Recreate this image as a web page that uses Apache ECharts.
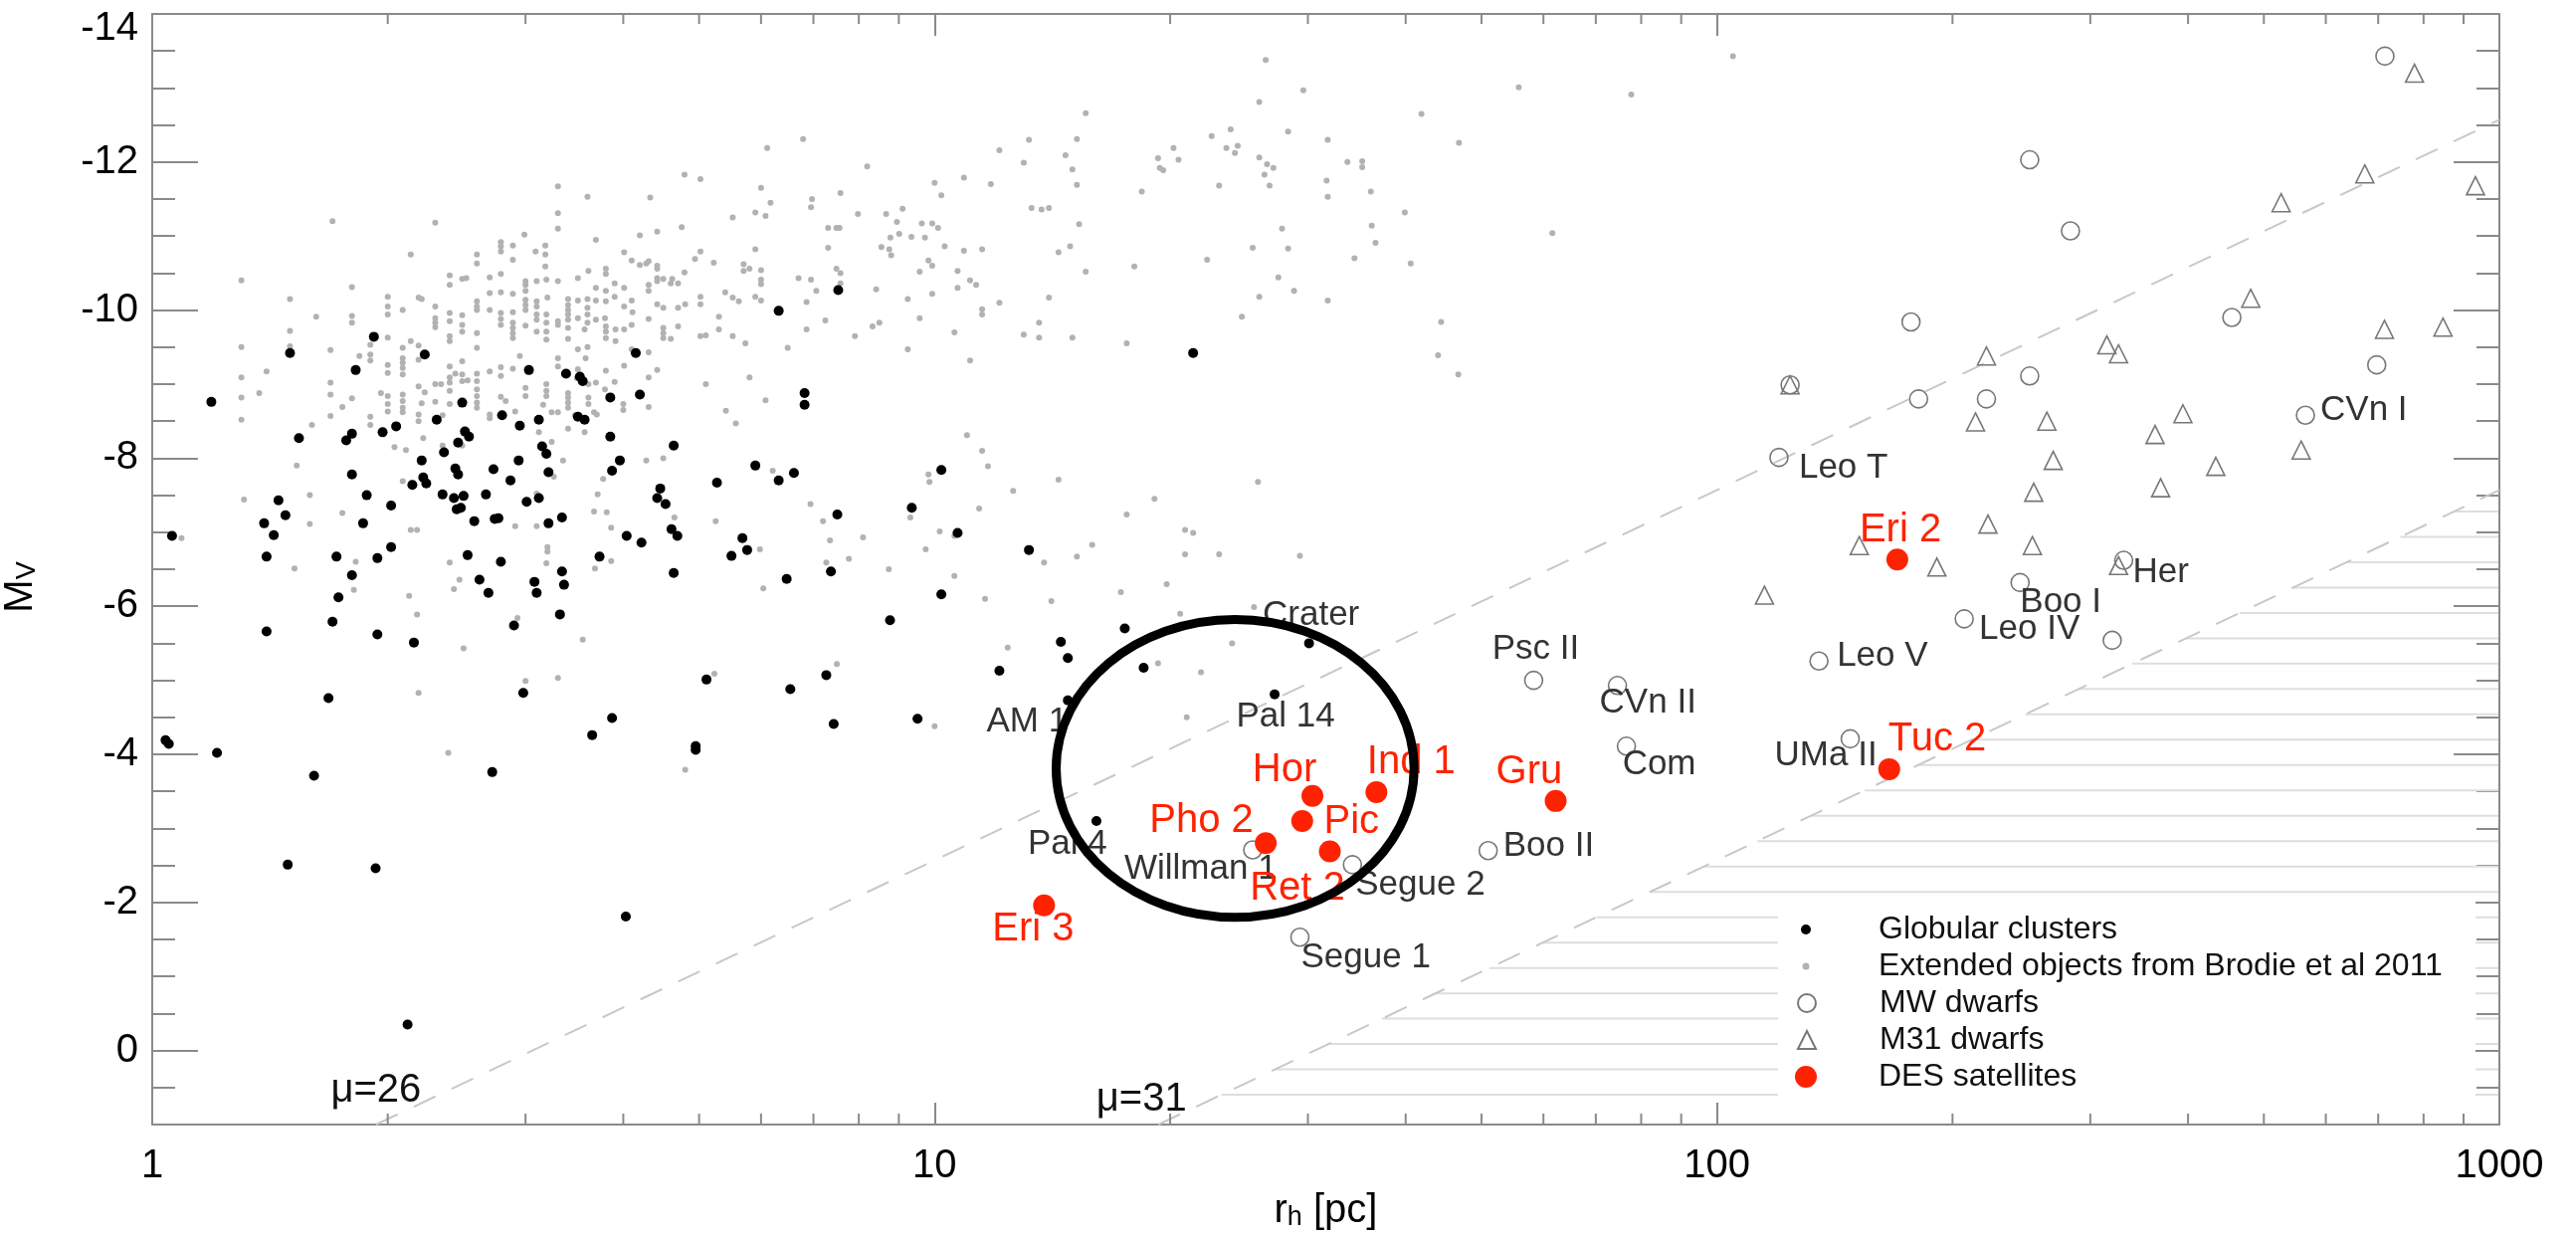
<!doctype html>
<html>
<head>
<meta charset="utf-8">
<title>Size - luminosity plane</title>
<script src="https://cdn.jsdelivr.net/npm/echarts@6/dist/echarts.min.js"></script>
<style>
  html, body { margin: 0; padding: 0; background: #fff; }
  #main { width: 2589px; height: 1243px; }
</style>
</head>
<body>
<div id="main"></div>
<script>
  // all points are [r_h in pc, M_V]
  var globularClusters = [
    [1.19,-8.76],[1.06,-6.95],[1.50,-9.42],[1.54,-8.27],[1.39,-7.12],[1.43,-6.96],[1.45,-7.43],[1.48,-7.23],[1.40,-6.67],
    [1.92,-9.64],[1.82,-9.19],[2.23,-9.40],[1.77,-8.24],[1.80,-8.33],[1.80,-7.78],[1.88,-7.50],[1.86,-7.12],[2.02,-7.36],
    [1.97,-8.35],[2.05,-8.43],[2.21,-7.97],[2.15,-7.64],[2.24,-7.66],[2.22,-7.74],[2.31,-8.52],[2.36,-8.08],[2.49,-8.75],
    [2.46,-8.21],[2.51,-8.36],[2.54,-8.29],[2.35,-7.51],[2.44,-7.86],[2.46,-7.78],[2.43,-7.46],[2.50,-7.49],[2.45,-7.31],
    [2.48,-7.33],[1.94,-6.65],[2.02,-6.80],[1.72,-6.67],[1.80,-6.42],[1.73,-6.12],[2.58,-7.15],[2.53,-6.69],[2.62,-6.36],
    [2.69,-6.18],[2.67,-7.51],[2.73,-7.85],[2.74,-7.18],[2.77,-7.19],[2.79,-6.60],[2.80,-8.58],[2.87,-7.70],[2.94,-7.97],
    [2.95,-8.44],[3.03,-9.19],[3.01,-7.41],[3.12,-8.52],[3.15,-8.16],[3.19,-8.06],[3.21,-7.81],[3.12,-7.46],[3.21,-7.12],
    [3.08,-6.33],[3.10,-6.18],[3.34,-7.20],[3.34,-6.47],[3.36,-6.29],[3.32,-5.89],[3.38,-9.14],[3.52,-9.10],[3.55,-9.04],
    [3.50,-8.56],[3.57,-8.52],[3.85,-8.82],[3.85,-8.29],[3.96,-7.97],[3.87,-7.83],[4.15,-9.42],[4.20,-8.86],[4.04,-6.95],
    [4.22,-6.86],[3.73,-6.67],[4.42,-7.46],[4.46,-7.59],[4.53,-7.38],[4.61,-7.04],[4.69,-6.95],[4.64,-8.17],[4.64,-6.45],
    [5.27,-7.67],[5.50,-6.68],[5.68,-6.92],[5.76,-6.76],[5.90,-7.90],[6.32,-7.70],[6.61,-7.80],[6.32,-9.99],[6.82,-8.88],
    [6.82,-8.72],[7.53,-10.27],[7.51,-7.24],[6.47,-6.37],[7.37,-6.47],
    [1.04,-4.19],[1.05,-4.14],[1.21,-4.02],[1.40,-5.66],[1.49,-2.51],[1.61,-3.71],[1.68,-4.76],[1.70,-5.79],[1.93,-2.46],
    [1.94,-5.62],[2.12,-0.35],[2.16,-5.51],[2.72,-3.76],[2.90,-5.74],[2.98,-4.83],[3.65,-4.26],[3.87,-4.49],[4.03,-1.81],
    [4.95,-4.11],[4.95,-4.06],[5.11,-5.01],[6.54,-4.88],[7.27,-5.07],[7.43,-4.41],[8.77,-5.81],
    [10.2,-7.84],[9.35,-7.33],[10.7,-6.99],[10.2,-6.16],[12.1,-5.13],[21.4,-9.42],[13.2,-6.76],
    [14.5,-5.52],[14.8,-5.30],[17.5,-5.70],[18.5,-5.17],[9.51,-4.48]
  ];
  var namedClusters = [[30.1,-5.50],[27.2,-4.81],[14.8,-4.73],[16.1,-3.10]];
  var namedClusterNames = ['Crater','Pal 14','AM 1','Pal 4'];

  var extendedObjects = [
    [1.30,-10.40],[1.70,-11.20],[2.30,-11.18],[2.14,-10.75],[3.30,-11.67],[3.30,-11.31],[3.30,-11.10],[3.60,-11.53],[3.69,-10.95],
    [2.99,-11.02],[2.79,-10.92],[2.79,-10.86],[2.79,-10.79],[2.89,-10.87],[2.89,-10.68],[3.09,-10.79],[3.18,-10.87],[3.18,-10.75],
    [3.18,-10.59],[2.60,-10.75],[2.60,-10.63],[2.40,-10.47],[2.40,-10.34],[2.49,-10.42],[2.52,-10.43],[2.70,-10.44],[2.79,-10.49],
    [3.00,-10.39],[3.00,-10.34],[3.00,-10.26],[3.10,-10.39],[3.19,-10.41],[3.30,-10.39],[3.50,-10.43],[3.61,-10.53],[3.00,-10.14],
    [3.00,-10.07],[3.00,-10.00],[3.10,-10.12],[3.10,-10.05],[3.20,-10.17],[3.40,-10.15],[3.40,-10.07],[3.40,-10.00],[3.40,-9.94],
    [3.40,-9.87],[3.40,-9.76],[3.40,-9.61],[3.50,-10.13],[3.60,-10.15],[3.60,-10.03],[3.60,-9.94],[3.60,-9.83],[2.70,-10.23],
    [2.79,-10.24],[2.89,-10.22],[2.60,-10.12],[2.60,-10.05],[2.60,-10.00],[2.70,-10.00],[2.79,-9.96],[2.79,-9.88],[2.79,-9.80],
    [2.89,-9.97],[2.89,-9.83],[2.89,-9.76],[2.89,-9.69],[2.89,-9.62],[3.00,-9.79],[3.10,-9.94],[3.10,-9.87],[3.10,-9.71],
    [3.19,-9.94],[3.19,-9.83],[3.19,-9.71],[3.19,-9.60],[3.30,-9.85],[3.30,-9.80],[3.50,-9.89],[3.50,-9.47],[3.60,-9.50],
    [3.57,-9.74],[2.40,-9.96],[2.40,-9.85],[2.49,-9.93],[2.49,-9.80],[2.49,-9.71],[2.60,-9.69],[2.60,-9.49],[2.30,-10.05],
    [2.30,-9.89],[2.30,-9.83],[2.30,-9.77],[2.40,-9.65],[2.40,-9.58],[2.19,-10.17],[2.21,-10.15],[2.09,-10.00],[2.00,-10.18],
    [2.00,-10.05],[2.00,-9.94],[2.00,-9.63],[1.80,-10.31],[1.80,-9.92],[1.80,-9.83],[1.62,-9.91],[1.50,-10.15],[1.50,-9.72],
    [1.50,-9.51],[1.30,-9.50],[1.69,-9.46],[1.84,-9.38],[1.90,-9.53],[1.90,-9.40],[1.90,-9.32],[2.00,-9.26],[2.00,-9.15],
    [2.09,-9.49],[2.09,-9.35],[2.09,-9.29],[2.09,-9.22],[2.09,-9.13],[2.14,-9.58],[2.19,-9.52],[2.19,-9.33],[2.30,-9.00],
    [2.34,-9.00],[2.40,-9.24],[2.40,-9.09],[2.40,-9.02],[2.40,-8.91],[2.44,-9.14],[2.49,-9.31],[2.49,-9.13],[2.49,-9.04],
    [2.53,-9.05],[2.60,-9.14],[2.60,-9.04],[2.60,-8.93],[2.60,-8.84],[2.60,-8.75],[2.60,-8.68],[2.70,-9.17],[2.79,-9.23],
    [2.79,-9.11],[2.89,-9.21],[2.95,-9.38],[2.79,-8.83],[2.83,-8.77],[2.91,-8.63],[3.00,-8.95],[3.00,-8.84],[3.16,-8.72],
    [3.19,-9.00],[3.19,-8.91],[3.19,-8.84],[3.40,-8.88],[3.40,-8.82],[3.40,-8.75],[3.40,-8.68],[3.50,-9.20],[3.61,-9.00],
    [3.61,-8.82],[3.61,-8.73],[3.24,-8.62],[3.30,-8.62],[3.47,-8.58],[3.67,-8.62],[2.70,-8.59],[2.70,-8.54],[2.40,-8.73],
    [2.19,-8.97],[2.23,-8.89],[2.21,-8.74],[2.30,-8.76],[2.00,-8.84],[2.00,-8.73],[2.00,-8.63],[2.09,-8.86],[2.09,-8.77],
    [2.09,-8.68],[2.09,-8.62],[2.19,-8.59],[2.19,-8.50],[1.96,-8.88],[1.90,-8.56],[1.90,-8.45],[1.80,-8.81],[1.75,-8.69],
    [1.69,-9.02],[1.69,-8.86],[1.69,-8.57],[1.60,-8.45],[1.40,-9.17],[1.37,-8.88],[1.30,-9.09],[1.30,-8.82],[1.30,-8.52],
    [2.35,-8.58],[3.49,-9.08],
    [6.79,-12.31],[6.11,-12.19],[4.79,-11.83],[5.02,-11.77],[4.33,-11.52],[4.20,-11.01],[4.42,-11.06],[4.75,-11.12],[4.01,-10.78],
    [4.10,-10.67],[4.20,-10.61],[4.28,-10.63],[4.31,-10.66],[4.42,-10.60],[4.42,-10.56],[4.94,-10.69],[5.02,-10.79],[4.79,-10.51],
    [5.22,-10.64],[5.52,-11.25],[5.90,-11.32],[6.00,-11.65],[6.17,-11.45],[6.08,-11.27],[5.90,-10.82],[5.70,-10.62],[5.80,-10.56],
    [5.70,-10.53],[6.00,-10.54],[6.00,-10.41],[6.00,-10.35],[5.40,-10.24],[5.52,-10.17],[5.62,-10.12],[5.90,-10.18],[6.00,-10.13],
    [6.97,-11.50],[6.95,-11.39],[7.58,-11.58],[8.20,-11.94],[7.98,-11.30],[7.31,-11.11],[7.49,-11.11],[7.56,-11.11],[7.31,-10.84],
    [7.49,-10.56],[7.58,-10.50],[7.58,-10.36],[6.70,-10.43],[6.95,-10.41],[7.06,-10.26],[6.86,-10.11],[8.67,-11.30],[9.10,-11.37],
    [8.95,-11.19],[9.01,-11.03],[8.78,-10.98],[8.55,-10.85],[8.75,-10.82],[8.80,-10.74],[9.34,-10.99],[9.72,-10.98],[9.63,-11.17],
    [9.93,-11.17],[10.1,-11.11],[10.0,-11.72],[10.2,-11.55],[10.9,-11.79],[11.8,-11.70],[12.1,-12.16],[10.3,-10.86],[10.9,-10.80],
    [11.5,-10.82],[9.82,-10.67],[9.93,-10.60],[9.57,-10.52],[10.7,-10.53],[11.1,-10.40],[11.3,-10.34],[10.7,-10.30],[9.93,-10.22],
    [8.42,-10.28],[9.24,-10.15],[9.57,-9.89],[11.5,-10.01],[11.5,-9.94],[12.1,-10.10],[10.6,-9.70],[11.1,-9.32],[9.24,-9.47],
    [8.33,-9.78],[8.50,-9.83],[7.91,-9.65],[7.25,-9.86],[6.86,-9.74],[6.49,-9.49],[5.80,-9.09],[6.08,-8.78],[5.41,-8.64],
    [5.57,-8.47],[5.10,-9.00],[5.73,-9.55],[5.52,-9.65],[5.30,-9.91],[5.30,-9.74],[5.02,-9.65],[5.10,-9.66],[5.02,-10.18],
    [5.02,-10.08],[4.80,-10.08],[4.70,-10.03],[4.60,-10.36],[4.70,-10.36],[4.50,-10.42],[4.62,-10.42],[4.42,-10.43],[4.42,-10.39],
    [4.31,-10.34],[4.31,-10.26],[4.50,-10.03],[4.42,-10.08],[4.31,-9.88],[4.10,-10.13],[4.11,-9.97],[4.10,-9.80],[4.01,-10.30],
    [4.01,-10.05],[3.90,-10.36],[3.90,-10.18],[3.80,-10.56],[3.80,-10.49],[3.80,-10.26],[3.80,-10.12],[3.69,-10.30],[3.69,-10.13],
    [3.69,-9.87],[3.79,-9.89],[3.80,-9.78],[3.80,-9.71],[3.80,-9.62],[3.91,-9.74],[4.01,-9.74],[3.91,-9.58],[4.50,-9.76],
    [4.50,-9.69],[4.50,-9.62],[4.60,-9.61],[4.70,-9.78],[4.31,-9.43],[4.10,-9.47],[4.01,-9.25],[3.90,-9.03],[3.79,-8.93],
    [3.58,-9.35],[3.80,-9.18],[3.69,-9.02],[3.30,-9.35],[3.30,-9.24],[4.00,-8.73],[4.00,-8.65],[4.31,-9.09],[4.42,-9.19],
    [4.31,-8.69],[3.70,-8.59],
    [26.5,-13.38],[29.6,-12.97],[26.0,-12.81],[15.6,-12.66],[55.8,-13.01],[77.7,-12.91],[104.8,-13.43],[41.9,-12.65],[46.8,-12.26],
    [13.2,-12.30],[15.2,-12.31],[14.7,-12.09],[15.0,-11.90],[15.2,-11.69],[13.0,-11.99],[13.3,-11.38],[13.7,-11.36],[14.0,-11.38],
    [15.3,-11.16],[14.9,-10.86],[14.4,-10.78],[15.6,-10.52],[14.0,-10.17],[13.6,-9.83],[13.6,-9.63],[15.0,-9.63],[13.0,-9.67],
    [17.6,-9.55],[18.0,-10.59],[18.4,-11.60],[19.3,-12.05],[19.6,-11.89],[19.4,-11.92],[20.2,-12.19],[20.5,-12.03],[22.6,-12.35],
    [23.9,-12.44],[23.6,-12.19],[24.2,-12.12],[24.4,-12.22],[26.0,-12.06],[26.6,-11.97],[27.1,-11.92],[26.4,-11.83],[26.8,-11.68],
    [23.1,-11.68],[28.3,-12.41],[31.8,-12.30],[31.7,-11.75],[31.8,-11.53],[33.7,-12.00],[35.2,-12.01],[35.2,-11.93],[36.1,-11.60],
    [27.8,-11.10],[28.3,-10.83],[25.5,-10.84],[22.3,-10.68],[27.5,-10.44],[28.8,-10.26],[31.8,-10.13],[26.0,-10.18],[24.7,-9.91],
    [34.4,-10.70],[36.2,-11.14],[36.6,-10.91],[39.9,-11.32],[40.6,-10.63],[44.4,-9.84],[44.0,-9.39],[46.7,-9.13],[61.6,-11.04],
    [14.4,-7.71],[19.1,-7.45],[17.6,-7.24],[15.9,-6.83],[15.2,-6.67],[13.8,-6.59],[12.6,-7.56],[20.9,-7.03],[21.4,-6.99],
    [20.9,-6.70],[23.1,-6.70],[25.9,-7.68],[29.3,-6.68],[19.8,-6.30],[17.3,-6.19],[14.1,-6.07],[20.6,-5.90],[25.6,-5.99],
    [12.4,-5.44],[19.3,-5.23],[21.9,-5.11],[24.0,-5.50],[10.0,-4.38],[21.0,-4.50],
    [4.28,-7.97],[4.50,-8.00],[3.77,-7.72],[3.71,-7.51],[3.81,-7.27],[3.86,-7.06],[3.86,-6.61],[4.65,-7.20],[5.25,-7.15],
    [6.21,-7.83],[6.94,-7.38],[7.20,-7.15],[7.35,-6.89],[7.27,-6.59],[7.77,-6.64],[8.10,-6.93],[5.98,-6.77],[6.04,-6.24],
    [8.74,-6.50],[9.82,-7.78],[9.85,-7.68],[9.31,-7.20],[10.15,-7.01],[10.6,-6.95],[9.74,-6.77],[10.6,-6.41],[11.0,-8.31],
    [11.5,-8.10],[11.7,-7.89],[11.4,-7.32],[11.6,-6.10],[7.50,-5.22],[5.23,-5.09],
    [1.53,-7.90],[1.59,-7.50],[1.75,-7.26],[1.59,-7.11],[1.31,-7.44],[1.09,-6.92],[1.52,-6.51],[1.82,-6.60],[1.81,-6.22],
    [2.04,-8.15],[2.11,-8.11],[2.22,-8.27],[2.49,-8.17],[2.09,-7.69],[2.14,-7.03],[2.18,-7.03],[3.12,-8.35],[3.24,-8.22],
    [3.57,-8.35],[3.40,-8.40],[3.35,-7.97],[3.26,-7.75],[3.10,-7.52],[3.67,-7.28],[3.68,-6.51],[2.91,-7.08],[3.10,-7.08],
    [3.20,-6.80],[3.20,-6.74],[3.19,-6.58],[2.40,-6.59],[2.47,-6.36],[2.43,-6.23],[2.13,-6.14],[2.18,-5.89],[2.50,-5.43],
    [2.93,-5.84],[3.55,-5.55],[3.00,-4.99],[3.30,-5.03],[2.19,-4.83],[2.35,-8.17],[2.39,-4.02],[4.80,-3.79]
  ];

  var mwDwarfs = [
    [714,-13.43],[251,-12.03],[283,-11.07],[177,-9.84],[455,-9.90],[251,-9.11],[181,-8.80],[221,-8.80],[697,-9.26],
    [124,-8.99],[565,-8.58],[120,-8.01],[331,-6.62],[244,-6.32],[207,-5.83],[320,-5.54],[135,-5.26],[148,-4.21],
    [58.3,-5.00],[74.6,-4.93],[76.6,-4.11],[51.0,-2.70],[34.2,-2.51],[25.5,-2.71],[29.3,-1.53]
  ];
  var mwNames = ['','','','','','','','','','','CVn I','Leo T','Her','Boo I','Leo IV','','Leo V','UMa II',
    'Psc II','CVn II','Com','Boo II','Segue 2','Willman 1','Segue 1'];

  var m31Dwarfs = [
    [779,-13.20],[673,-11.84],[932,-11.68],[526,-11.45],[481,-10.16],[713,-9.74],[847,-9.77],[315,-9.53],[326,-9.41],
    [221,-9.38],[124,-8.99],[214,-8.49],[264,-8.50],[394,-8.60],[363,-8.32],[269,-7.97],[434,-7.89],[558,-8.11],
    [369,-7.60],[254,-7.54],[222,-7.11],[152,-6.82],[191,-6.53],[253,-6.82],[115,-6.15],[326,-6.55]
  ];

  var desSatellites = [[170,-6.63],[166,-3.80],[30.4,-3.44],[36.7,-3.49],[32.0,-2.69],[29.5,-3.10],[26.5,-2.80],[62.2,-3.37],[13.8,-1.96]];
  var desNames = ['Eri 2','Tuc 2','Hor','Ind 1','Pic','Pho 2','Ret 2','Gru','Eri 3'];

  var muLevels = [26, 31];
  var MU_ZERO = 23.57;          // mu = M_V + 5 log10(r_h) + 23.57
  var xMin = 1, xMax = 1000, yMin = -14, yMax = 1;

  // ---------- styling ----------
  var FONT = "'Liberation Sans', Arial, Helvetica, sans-serif";
  var AXIS_GRAY = '#8a8a8a';
  var RED = '#ff2200';
  var TEXT_GRAY = '#333333';

  // label anchor: [align, dx, dy] from the point centre
  var labelPlace = {
    'Crater': ['center', 2, -28], 'Pal 14': ['center', 11, 23], 'AM 1': ['right', 0, 22], 'Pal 4': ['left', -69, 23],
    'Willman 1': ['left', -129, 19], 'Segue 2': ['left', 3, 20], 'Segue 1': ['left', 1, 21], 'Boo II': ['left', 15, -4],
    'Psc II': ['center', 2, -31], 'CVn II': ['left', -18, 18], 'Com': ['left', -4, 19], 'Leo T': ['left', 20, 11],
    'UMa II': ['left', -76, 17], 'Leo V': ['left', 18, -5], 'Leo IV': ['left', 15, 10], 'Boo I': ['left', 0, 20],
    'Her': ['left', 9, 12], 'CVn I': ['left', 15, -5],
    'Hor': ['center', -28, -26], 'Ind 1': ['center', 35, -30], 'Pho 2': ['right', -49, 0], 'Pic': ['left', -6, -29],
    'Ret 2': ['left', -16, 46], 'Gru': ['left', -60, -29], 'Eri 3': ['left', -52, 24], 'Eri 2': ['left', -38, -29],
    'Tuc 2': ['left', -1, -30]
  };

  function labelFor(name, color, size) {
    var p = labelPlace[name];
    return {
      show: true, formatter: name, position: 'inside', align: p[0], verticalAlign: 'middle',
      offset: [p[1], p[2]], color: color, fontSize: size, fontFamily: FONT, textBorderWidth: 0
    };
  }

  function named(points, names, color, size) {
    return points.map(function (p, i) {
      if (!names[i]) return p;
      return { value: p, label: labelFor(names[i], color, size) };
    });
  }

  var gcData = globularClusters.concat(named(namedClusters, namedClusterNames, TEXT_GRAY, 35));

  var muSeries = muLevels.map(function (mu) {
    var rStart = Math.pow(10, (mu - MU_ZERO - yMax) / 5);
    return {
      type: 'line', name: 'mu' + mu, silent: true, symbol: 'none', z: 1,
      data: [[rStart, yMax], [xMax, mu - MU_ZERO - 5 * Math.log10(xMax)]],
      lineStyle: { color: '#c8c8c8', width: 2, type: [24, 18] }
    };
  });

  function yAxisDef(pos, interval, tickLen, main) {
    return {
      type: 'value', min: yMin, max: yMax, inverse: true, interval: interval, position: pos,
      axisLine: { show: main, onZero: false, lineStyle: { color: AXIS_GRAY, width: 2 } },
      axisTick: { show: true, inside: true, length: tickLen, lineStyle: { color: AXIS_GRAY, width: 2 } },
      axisLabel: (main && pos === 'left') ? {
        show: true, showMaxLabel: false, color: '#000', fontSize: 40, fontFamily: FONT, margin: 14,
        formatter: function (v) { return v === yMin ? '{t|' + v + '}' : String(v); },
        rich: { t: { fontSize: 40, fontFamily: FONT, color: '#000', padding: [30, 0, 0, 0] } }
      } : { show: false },
      splitLine: { show: false }
    };
  }

  function xAxisDef(pos) {
    return {
      type: 'log', logBase: 10, min: xMin, max: xMax, position: pos,
      axisLine: { show: true, onZero: false, lineStyle: { color: AXIS_GRAY, width: 2 } },
      axisTick: { show: true, inside: true, length: 22, lineStyle: { color: AXIS_GRAY, width: 2 } },
      axisLabel: pos === 'bottom' ? {
        show: true, color: '#000', fontSize: 40, fontFamily: FONT, margin: 22,
        formatter: function (v) { return String(Math.round(v)); }
      } : { show: false },
      splitLine: { show: false }
    };
  }

  var xBottom = xAxisDef('bottom');
  xBottom.name = '{n|r}{s|h}{n| [pc]}';
  xBottom.nameLocation = 'middle';
  xBottom.nameGap = 60;
  xBottom.nameTextStyle = {
    rich: {
      n: { fontSize: 40, fontFamily: FONT, color: '#000', lineHeight: 44, verticalAlign: 'bottom' },
      s: { fontSize: 27, fontFamily: FONT, color: '#000', lineHeight: 16, verticalAlign: 'bottom' }
    }
  };

  var yLeft = yAxisDef('left', 2, 46, true);
  yLeft.name = '{m|M}{s|V}';
  yLeft.nameLocation = 'middle';
  yLeft.nameRotate = 90;
  yLeft.nameGap = 112;
  yLeft.nameTextStyle = {
    padding: [0, 36, 0, 0],
    rich: {
      m: { fontSize: 40, fontFamily: FONT, color: '#000', lineHeight: 44, verticalAlign: 'bottom' },
      s: { fontSize: 27, fontFamily: FONT, color: '#000', lineHeight: 16, verticalAlign: 'bottom' }
    }
  };

  // legend rows
  var LEG_ICON_X = 1815, LEG_TEXT_X = 1888, LEG_ROWS = [934, 971, 1008, 1045, 1082];
  var legendItems = [
    ['Globular clusters', 10], ['Extended objects from Brodie et al 2011', 7],
    ['MW dwarfs', 18], ['M31 dwarfs', 18], ['DES satellites', 22]
  ];
  var legends = legendItems.map(function (it, i) {
    var s = it[1];
    return {
      data: [it[0]], orient: 'vertical', selectedMode: false, padding: 0,
      left: LEG_ICON_X - s / 2, top: LEG_ROWS[i] - 18, itemWidth: s, itemHeight: s,
      textStyle: { fontSize: 32, fontFamily: FONT, color: '#111', lineHeight: 36,
        padding: [0, 0, 0, LEG_TEXT_X - (LEG_ICON_X + s / 2 + 5)] }
    };
  });

  var chart = echarts.init(document.getElementById('main'), null, { renderer: 'canvas' });
  chart.setOption({
    animation: false,
    backgroundColor: '#fff',
    grid: { left: 153, right: 77, top: 14, bottom: 113, containLabel: false, outerBoundsMode: 'none' },
    legend: legends,
    xAxis: [xBottom, xAxisDef('top')],
    yAxis: [yLeft, yAxisDef('left', 0.5, 23, false), yAxisDef('right', 2, 46, true), yAxisDef('right', 0.5, 23, false)],
    series: muSeries.concat([
      { type: 'scatter', name: 'Extended objects from Brodie et al 2011', data: extendedObjects, symbol: 'circle',
        symbolSize: 6, itemStyle: { color: '#b2b2b2', opacity: 1 }, z: 2 },
      { type: 'scatter', name: 'Globular clusters', data: gcData, symbol: 'circle', symbolSize: 10,
        itemStyle: { color: '#000', opacity: 1 }, z: 3 },
      { type: 'scatter', name: 'MW dwarfs', data: named(mwDwarfs, mwNames, TEXT_GRAY, 35), symbol: 'circle', symbolSize: 18,
        itemStyle: { color: 'rgba(255,255,255,0)', borderColor: '#777', borderWidth: 1.6, opacity: 1 }, z: 4 },
      { type: 'scatter', name: 'M31 dwarfs', data: m31Dwarfs, symbol: 'triangle', symbolSize: 18,
        itemStyle: { color: 'rgba(255,255,255,0)', borderColor: '#777', borderWidth: 1.6, opacity: 1 }, z: 4 },
      { type: 'scatter', name: 'DES satellites', data: named(desSatellites, desNames, RED, 40), symbol: 'circle', symbolSize: 22,
        itemStyle: { color: RED, opacity: 1 }, z: 5 }
    ])
  });

  // ---------- decorations: hatch, minor log ticks, mu labels, ellipse ----------
  function toPx(r, m) { return chart.convertToPixel({ xAxisIndex: 0, yAxisIndex: 0 }, [r, m]); }
  var els = [];

  var HATCH_TOP = -7.28, HATCH_STEP = 0.3425, HATCH_COUNT = 24;
  for (var k = 0; k < HATCH_COUNT; k++) {
    var m = HATCH_TOP + k * HATCH_STEP;
    var a = toPx(Math.pow(10, (31 - MU_ZERO - m) / 5), m), b = toPx(xMax, m);
    els.push({ type: 'line', silent: true, z: 1, shape: { x1: a[0], y1: a[1], x2: b[0] - 1, y2: b[1] },
      style: { stroke: '#dedede', lineWidth: 2 } });
  }

  els.push({ type: 'rect', silent: true, z: 3, shape: { x: 1787, y: 905, width: 701, height: 207 }, style: { fill: '#fff' } });

  var yBot = toPx(1, yMax)[1], yTop = toPx(1, yMin)[1];
  [1, 10, 100].forEach(function (d) {
    for (var j = 2; j <= 9; j++) {
      var x = toPx(d * j, 0)[0];
      els.push({ type: 'line', silent: true, z: 5, shape: { x1: x, y1: yBot, x2: x, y2: yBot - 11 }, style: { stroke: AXIS_GRAY, lineWidth: 2 } });
      els.push({ type: 'line', silent: true, z: 5, shape: { x1: x, y1: yTop, x2: x, y2: yTop + 10 }, style: { stroke: AXIS_GRAY, lineWidth: 2 } });
    }
  });

  var muLabelShift = { 26: [0, -34], 31: [-17, -25] };
  muLevels.forEach(function (mu) {
    var p = toPx(Math.pow(10, (mu - MU_ZERO - yMax) / 5), yMax);
    els.push({ type: 'text', silent: true, z: 5, x: p[0] + muLabelShift[mu][0], y: p[1] + muLabelShift[mu][1],
      style: { text: '\u03bc=' + mu, fill: '#111', fontSize: 40, fontFamily: FONT, align: 'center', verticalAlign: 'middle' } });
  });

  // ellipse around the new compact satellites
  var e0 = toPx(14.3, -5.82), e1 = toPx(41.0, -1.80);
  els.push({ type: 'ellipse', silent: true, z: 20,
    shape: { cx: (e0[0] + e1[0]) / 2, cy: (e0[1] + e1[1]) / 2, rx: Math.abs(e1[0] - e0[0]) / 2, ry: Math.abs(e1[1] - e0[1]) / 2 },
    style: { fill: 'none', stroke: '#000', lineWidth: 9 } });

  chart.setOption({ graphic: { elements: els } });
</script>
</body>
</html>
